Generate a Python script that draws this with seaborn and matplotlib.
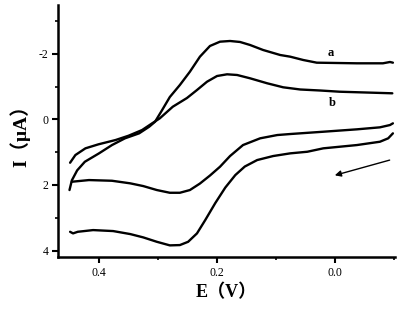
import numpy as np
import matplotlib
matplotlib.use("Agg")
import matplotlib.pyplot as plt
import seaborn as sns

# ---- data (E in V, I in uA) ------------------------------------------------
# curve a, forward (anodic) branch
a_fwd_E = [0.450, 0.446, 0.437, 0.424, 0.400, 0.378, 0.356, 0.332, 0.315, 0.305,
           0.293, 0.280, 0.263, 0.246, 0.229, 0.212, 0.195, 0.178, 0.161, 0.144,
           0.122, 0.093, 0.076, 0.054, 0.031, -0.037, -0.081, -0.093, -0.098]
a_fwd_I = [2.155, 1.860, 1.555, 1.293, 1.037, 0.784, 0.579, 0.427, 0.226, 0.073,
           -0.284, -0.680, -1.046, -1.451, -1.909, -2.235, -2.366, -2.387, -2.357, -2.265,
           -2.113, -1.960, -1.909, -1.808, -1.726, -1.707, -1.707, -1.747, -1.726]
# curve a, reverse (cathodic) branch
a_rev_E = [-0.098, -0.090, -0.076, -0.037, 0.020, 0.047, 0.076, 0.105, 0.132, 0.153,
           0.169, 0.186, 0.203, 0.220, 0.234, 0.249, 0.263, 0.280, 0.302, 0.325,
           0.347, 0.376, 0.410, 0.436, 0.444, 0.449]
a_rev_I = [0.427, 0.579, 0.683, 0.784, 0.884, 0.988, 1.037, 1.119, 1.241, 1.439,
           1.698, 2.079, 2.552, 3.070, 3.476, 3.732, 3.832, 3.841, 3.732, 3.598,
           3.497, 3.405, 3.375, 3.427, 3.476, 3.427]
# curve b, forward branch
b_fwd_E = [0.449, 0.440, 0.423, 0.401, 0.372, 0.350, 0.327, 0.310, 0.297, 0.275,
           0.251, 0.234, 0.217, 0.200, 0.183, 0.166, 0.144, 0.115, 0.088, 0.059,
           0.025, -0.008, -0.064, -0.097]
b_fwd_I = [1.323, 1.088, 0.884, 0.762, 0.631, 0.500, 0.326, 0.122, -0.030, -0.384,
           -0.649, -0.893, -1.146, -1.320, -1.372, -1.351, -1.250, -1.098, -0.976, -0.909,
           -0.878, -0.841, -0.811, -0.793]
# curve b, reverse branch
b_rev_E = [-0.098, -0.093, -0.076, -0.037, 0.020, 0.076, 0.098, 0.127, 0.156, 0.178,
           0.195, 0.212, 0.229, 0.246, 0.263, 0.280, 0.302, 0.325, 0.347, 0.378,
           0.417, 0.446]
b_rev_I = [0.122, 0.174, 0.244, 0.305, 0.378, 0.448, 0.479, 0.579, 0.784, 1.119,
           1.445, 1.713, 1.957, 2.155, 2.238, 2.238, 2.155, 2.034, 1.951, 1.872,
           1.851, 1.902]

x_ticks = [0.4, 0.2, 0.0]
x_tick_labels = ["0.4", "0.2", "0.0"]
y_ticks = [-2, 0, 2, 4]
y_tick_labels = ["-2", "0", "2", "4"]

sns.set_style("ticks")
plt.rcParams['font.family'] = ['Liberation Serif', 'Noto Sans CJK SC', 'DejaVu Sans']
for key in ['text.color', 'axes.labelcolor', 'xtick.color', 'ytick.color',
            'axes.edgecolor']:
    plt.rcParams[key] = 'black'

fig = plt.figure(figsize=(3.98, 3.10), dpi=100)
ax = fig.add_axes([0.1457, 0.171, 0.847, 0.813])

for E, I in [(a_fwd_E, a_fwd_I), (a_rev_E, a_rev_I),
             (b_fwd_E, b_fwd_I), (b_rev_E, b_rev_I)]:
    sns.lineplot(x=E, y=I, sort=False, estimator=None, color='black',
                 linewidth=1.7, solid_joinstyle='round', solid_capstyle='round',
                 ax=ax)

# scan direction arrow
ax.annotate('', xy=(0.005, 1.729), xytext=(-0.097, 1.220),
            arrowprops=dict(arrowstyle='-|>', color='black', lw=1.0,
                            mutation_scale=9))
ax.text(0.007, -2.01, 'a', fontsize=9, fontweight='bold', ha='center', va='center')
ax.text(0.005, -0.51, 'b', fontsize=9, fontweight='bold', ha='center', va='center')

ax.set_xlim(0.4695, -0.1017)
ax.set_ylim(4.195, -3.485)
ax.set_xticks(x_ticks)
ax.set_xticklabels(x_tick_labels)
ax.set_yticks(y_ticks)
ax.set_yticklabels(y_tick_labels)
ax.set_xticks([0.3, 0.1, -0.1], minor=True)
ax.set_yticks([-3, -1, 1, 3], minor=True)
ax.tick_params(which='major', direction='out', length=4, width=1.5, labelsize=8.5,
               pad=3)
ax.tick_params(which='minor', direction='out', length=2.5, width=1.2)

for s in ['top', 'right']:
    ax.spines[s].set_visible(False)
for s in ['left', 'bottom']:
    ax.spines[s].set_linewidth(1.8)

ax.set_xlabel("E（V）", fontsize=13, fontweight='bold', labelpad=4)
ax.set_ylabel("I（μA）", fontsize=14, fontweight='bold', labelpad=6)

fig.savefig("out.png", dpi=100)
